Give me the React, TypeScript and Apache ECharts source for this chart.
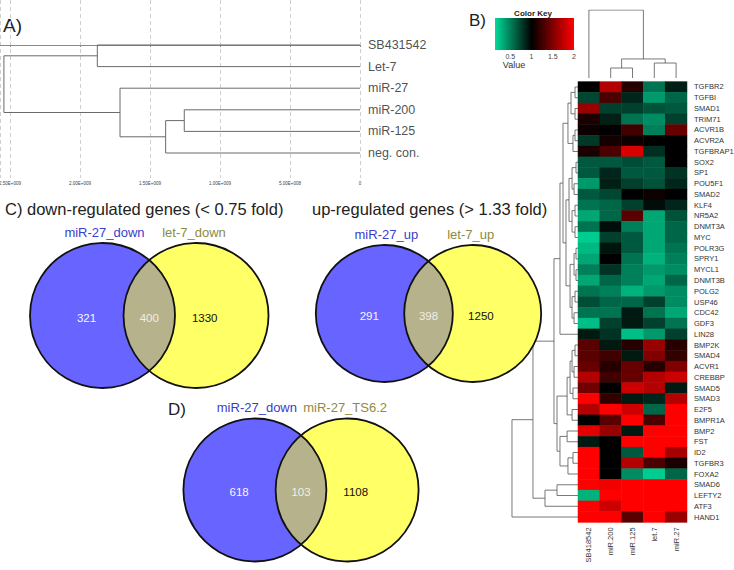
import React, { useEffect, useRef } from 'react';
import * as echarts from 'echarts';

// ---------- Panel A: sample dendrogram ----------
const leafNamesA = ['SB431542', 'Let-7', 'miR-27', 'miR-200', 'miR-125', 'neg. con.'];
// hclust-style merges: [childA, childB, height]; negative = leaf (1-based), positive = merge (1-based)
const mergesA = [
  [-4, -5, 1.255e9],
  [1, -6, 1.388e9],
  [-3, 2, 1.714e9],
  [-1, -2, 1.876e9],
  [4, 3, 2.543e9],
];

// ---------- Panel B: heatmap ----------
const sampleNames = ['SB418542', 'miR.200', 'miR.125', 'let.7', 'miR.27'];
const geneNames = [
  'TGFBR2', 'TGFBI', 'SMAD1', 'TRIM71', 'ACVR1B', 'ACVR2A', 'TGFBRAP1', 'SOX2', 'SP1', 'POU5F1',
  'SMAD2', 'KLF4', 'NR5A2', 'DNMT3A', 'MYC', 'POLR3G', 'SPRY1', 'MYCL1', 'DNMT3B', 'POLG2',
  'USP46', 'CDC42', 'GDF3', 'LIN28', 'BMP2K', 'SMAD4', 'ACVR1', 'CREBBP', 'SMAD5', 'SMAD3',
  'E2F5', 'BMPR1A', 'BMP2', 'FST', 'ID2', 'TGFBR3', 'FOXA2', 'SMAD6', 'LEFTY2', 'ATF3', 'HAND1',
];
const valsSB = [1.0, 0.72, 1.6, 1.1, 1.05, 0.78, 1.1, 0.65, 0.65, 0.4, 0.65, 0.55, 0.35, 0.55, 0.2, 0.28, 0.35, 0.5, 0.35, 0.55, 0.7, 0.55, 0.25, 0.9, 1.35, 1.35, 1.4, 1.7, 1.45, 2.0, 1.7, 1.0, 1.9, 0.9, 2.0, 2.0, 2.0, 2.0, 0.3, 2.0, 2.0];
const vals200 = [1.7, 1.3, 0.75, 0.88, 1.0, 1.08, 1.3, 0.65, 0.85, 0.88, 0.72, 0.6, 0.6, 0.95, 0.75, 0.92, 1.0, 0.8, 0.6, 0.5, 0.6, 0.55, 0.75, 0.8, 0.9, 1.25, 1.15, 1.25, 1.0, 1.2, 2.0, 1.35, 1.6, 1.0, 1.0, 1.0, 1.0, 1.95, 2.0, 1.8, 2.0];
const vals125 = [1.15, 0.85, 0.75, 0.55, 1.25, 1.05, 1.85, 0.7, 0.65, 0.75, 1.0, 0.75, 1.35, 0.5, 0.65, 0.65, 0.55, 0.5, 0.5, 0.3, 0.6, 0.9, 0.9, 0.25, 1.15, 0.9, 1.4, 1.4, 1.8, 0.9, 1.8, 2.0, 0.9, 2.0, 0.65, 1.7, 0.45, 2.0, 2.0, 2.0, 1.35];
const valsLet7 = [0.55, 0.4, 0.68, 0.45, 0.5, 1.0, 0.82, 0.65, 0.65, 0.68, 1.05, 0.95, 0.35, 0.35, 0.35, 0.35, 0.3, 0.4, 0.35, 0.4, 0.75, 0.55, 0.75, 0.4, 1.6, 1.5, 1.15, 1.7, 1.7, 0.85, 0.6, 1.3, 2.0, 2.0, 2.0, 1.3, 0.2, 2.0, 2.0, 2.0, 2.0];
const vals27 = [0.88, 0.6, 0.65, 0.75, 1.4, 1.0, 1.0, 1.0, 0.8, 0.85, 1.0, 0.85, 0.68, 0.6, 0.6, 0.55, 0.5, 0.45, 0.6, 0.45, 0.45, 0.35, 0.55, 0.75, 1.15, 1.2, 1.5, 1.8, 0.9, 1.7, 2.0, 2.0, 2.0, 2.0, 1.65, 1.1, 0.6, 2.0, 2.0, 2.0, 1.6];
const heatColumns = [valsSB, vals200, vals125, valsLet7, vals27];

// row dendrogram merges (heights in arbitrary units, root = 10)
const mergesRows = [
  [-1, -2, 0.45], [-3, -4, 0.45], [1, 2, 1.06], [-5, -6, 0.45], [4, -7, 0.76],
  [3, 5, 1.52], [-8, -9, 0.3], [-10, -11, 0.6], [7, 8, 0.9], [-12, -13, 0.45],
  [-14, -15, 0.45], [10, 11, 0.9], [9, 12, 1.36], [-16, -17, 0.3], [-18, -19, 0.3],
  [14, 15, 0.6], [-20, -21, 0.45], [-22, -23, 0.6], [17, 18, 0.9], [16, 19, 1.2],
  [13, 20, 1.82], [6, 21, 2.27], [22, -24, 2.73], [-25, -26, 0.45], [-27, -28, 0.6],
  [24, 25, 0.9], [-29, -30, 0.76], [26, 27, 1.2], [-31, -32, 0.9], [28, 29, 1.65],
  [-33, -34, 1.65], [-35, -36, 0.76], [32, -37, 1.52], [31, 33, 2.73], [30, 34, 3.18],
  [23, 35, 3.64], [-38, -39, 3.18], [37, -40, 5.0], [36, 38, 6.82], [39, -41, 10],
];
// column dendrogram merges (root = 1)
const mergesCols = [[-2, -3, 0.147], [-4, -5, 0.22], [1, 2, 0.28], [-1, 3, 1.0]];

const keyMin = 0.14;
const keyMax = 2;
const keyTicks = [0.5, 1, 1.5, 2];
const heatColors = ['#00ffb3', '#000000', '#ff0000'];

// ---------- Panels C / D: Venn diagrams ----------
const vennDownSets = ['miR-27_down', 'let-7_down'];
const vennDownCounts = [321, 400, 1330];
const vennUpSets = ['miR-27_up', 'let-7_up'];
const vennUpCounts = [291, 398, 1250];
const vennDSets = ['miR-27_down', 'miR-27_TS6.2'];
const vennDCounts = [618, 103, 1108];

const FONT = 'Liberation Sans, Arial, Helvetica, sans-serif';
const BLUE = '#6864ff';
const YELLOW = '#ffff66';
const LENS = '#b6b28c';
const VD = 0.645; // half distance between Venn centres, in radius units

function dendroLines(merges: number[][], vertical: boolean) {
  const pos: number[] = [];
  const hts: number[] = [];
  const out: any[] = [];
  for (const [a, b, h] of merges) {
    const pa = a < 0 ? -a - 1 : pos[a - 1];
    const ha = a < 0 ? 0 : hts[a - 1];
    const pb = b < 0 ? -b - 1 : pos[b - 1];
    const hb = b < 0 ? 0 : hts[b - 1];
    const pts = [[ha, pa], [h, pa], [h, pb], [hb, pb]];
    out.push({ coords: vertical ? pts.map(([x, y]) => [y, x]) : pts });
    pos.push((pa + pb) / 2);
    hts.push(h);
  }
  return out;
}

function hexToRgb(h: string) {
  return [parseInt(h.slice(1, 3), 16), parseInt(h.slice(3, 5), 16), parseInt(h.slice(5, 7), 16)];
}
function colorAt(v: number) {
  const t = Math.max(0, Math.min(1, v / 2)) * (heatColors.length - 1);
  const i = Math.min(heatColors.length - 2, Math.floor(t));
  const f = t - i;
  const a = hexToRgb(heatColors[i]);
  const b = hexToRgb(heatColors[i + 1]);
  const c = a.map((x, k) => Math.round(x + (b[k] - x) * f));
  return `rgb(${c[0]},${c[1]},${c[2]})`;
}

function sciLabel(v: number) {
  if (Math.abs(v % 5e8) > 1) return '';
  if (v === 0) return '0';
  const e = Math.floor(Math.log10(v) + 1e-9);
  const m = v / Math.pow(10, e);
  return m.toFixed(2) + 'E+' + String(e).padStart(3, '0');
}

function vennSeries(idx: number, sets: string[], counts: number[]) {
  return {
    type: 'custom',
    xAxisIndex: idx,
    yAxisIndex: idx,
    silent: true,
    data: [
      [-VD - 0.22, 0, counts[0], 0],
      [VD + 0.12, 0, counts[2], 2],
      [0, 0, counts[1], 1],
    ],
    renderItem: (params: any, api: any) => {
      const region = api.value(3);
      const c1 = api.coord([-VD, 0]);
      const c2 = api.coord([VD, 0]);
      const r = api.size([1, 0])[0];
      const p = api.coord([api.value(0), api.value(1)]);
      const children: any[] = [];
      if (region === 0 || region === 2) {
        const c = region === 0 ? c1 : c2;
        children.push({ type: 'circle', shape: { cx: c[0], cy: c[1], r }, style: { fill: region === 0 ? BLUE : YELLOW } });
        children.push({
          type: 'text', x: c[0] + (region === 0 ? 2 : -2), y: c[1] - r - 11,
          style: {
            text: sets[region === 0 ? 0 : 1], fill: region === 0 ? '#3c3ccc' : '#8c8c3e',
            fontSize: 13, fontFamily: FONT, align: 'center', verticalAlign: 'middle',
            textAlign: 'center', textVerticalAlign: 'middle',
          },
        });
      } else {
        const xm = (c1[0] + c2[0]) / 2;
        const hh = Math.sqrt(r * r - Math.pow((c2[0] - c1[0]) / 2, 2));
        const top = c1[1] - hh;
        const bot = c1[1] + hh;
        children.push({
          type: 'path',
          shape: { pathData: `M${xm} ${top}A${r} ${r} 0 0 1 ${xm} ${bot}A${r} ${r} 0 0 1 ${xm} ${top}Z` },
          style: { fill: LENS },
        });
        children.push({ type: 'circle', shape: { cx: c1[0], cy: c1[1], r }, style: { fill: 'none', stroke: '#111', lineWidth: 1.8 } });
        children.push({ type: 'circle', shape: { cx: c2[0], cy: c2[1], r }, style: { fill: 'none', stroke: '#111', lineWidth: 1.8 } });
      }
      children.push({
        type: 'text', x: p[0], y: p[1] + 2,
        style: {
          text: String(api.value(2)), fill: region === 2 ? '#111' : region === 1 ? '#efefe6' : '#f6f6ff',
          fontSize: 11.5, fontFamily: FONT, align: 'center', verticalAlign: 'middle',
          textAlign: 'center', textVerticalAlign: 'middle',
        },
      });
      return { type: 'group', children };
    },
  };
}

function mkGrid(left: number, top: number, width: number, height: number) {
  return { left, top, width, height, containLabel: false, outerBoundsMode: 'none' };
}
function vennGrid(mid: number, cy: number, r: number) {
  return mkGrid(mid - (1 + VD) * r, cy - r, 2 * (1 + VD) * r, 2 * r);
}
function hiddenValueAxis(idx: number, min: number, max: number, inverse = false) {
  return { type: 'value', gridIndex: idx, min, max, inverse, show: false, splitLine: { show: false } };
}

function txt(text: string, x: number, y: number, size: number, extra: any = {}) {
  return {
    type: 'text', x, y, silent: true,
    style: {
      text, fontSize: size, fontFamily: FONT, fill: extra.fill || '#222', fontWeight: extra.fontWeight || 'normal',
      textAlign: extra.align || 'left', textVerticalAlign: 'middle', align: extra.align || 'left', verticalAlign: 'middle',
    },
  };
}

export default function App() {
  const ref = useRef<HTMLDivElement>(null);
  useEffect(() => {
    const chart = echarts.init(ref.current!, null, { renderer: 'svg' });

    const heatData: number[][] = [];
    heatColumns.forEach((col, c) => col.forEach((v, r) => heatData.push([c, r, v])));

    const keyX0 = 495, keyX1 = 574;
    const keyPos = (v: number) => keyX0 + ((v - keyMin) / (keyMax - keyMin)) * (keyX1 - keyX0);
    const keyGradient = new echarts.graphic.LinearGradient(0, 0, 1, 0, [
      { offset: 0, color: colorAt(keyMin) },
      { offset: (1 - keyMin) / (keyMax - keyMin), color: colorAt(1) },
      { offset: 1, color: colorAt(keyMax) },
    ]);

    const option: any = {
      animation: false,
      backgroundColor: '#fff',
      textStyle: { fontFamily: FONT },
      grid: [
        mkGrid(0, 0, 360, 178),
        mkGrid(510, 81.6, 68, 440.8),
        mkGrid(578, 10, 109, 68),
        mkGrid(578, 81.6, 109, 440.8),
        vennGrid(149.25, 315.5, 72.5),
        vennGrid(428.5, 313.5, 68.5),
        vennGrid(301, 490, 71.5),
      ],
      xAxis: [
        {
          type: 'value', gridIndex: 0, min: 0, max: 2.571e9, interval: 5e8, inverse: true,
          axisLine: { lineStyle: { color: '#8a8a8a', width: 1 } },
          axisTick: { show: true, length: 2, lineStyle: { color: '#8a8a8a' } },
          axisLabel: { fontSize: 4.5, color: '#444', margin: 3, formatter: sciLabel, showMaxLabel: false },
          splitLine: { show: true, lineStyle: { color: '#cfcfcf', type: [4, 3], width: 1 } },
        },
        hiddenValueAxis(1, 0, 10.3, true),
        hiddenValueAxis(2, -0.5, 4.5),
        {
          type: 'category', gridIndex: 3, data: sampleNames, position: 'bottom',
          axisLine: { show: false }, axisTick: { show: false },
          axisLabel: { rotate: 90, fontSize: 7.5, color: '#333', margin: 5 },
        },
        hiddenValueAxis(4, -(1 + VD), 1 + VD),
        hiddenValueAxis(5, -(1 + VD), 1 + VD),
        hiddenValueAxis(6, -(1 + VD), 1 + VD),
      ],
      yAxis: [
        hiddenValueAxis(0, -2.083, 6.157, true),
        hiddenValueAxis(1, -0.5, 40.5, true),
        hiddenValueAxis(2, 0, 1),
        {
          type: 'category', gridIndex: 3, data: geneNames, inverse: true, position: 'right',
          axisLine: { show: false }, axisTick: { show: false },
          axisLabel: { fontSize: 7.5, color: '#333', margin: 7 },
        },
        hiddenValueAxis(4, -1, 1),
        hiddenValueAxis(5, -1, 1),
        hiddenValueAxis(6, -1, 1),
      ],
      visualMap: {
        show: false, type: 'continuous', min: 0, max: 2, seriesIndex: 4,
        inRange: { color: heatColors },
      },
      series: [
        {
          type: 'lines', coordinateSystem: 'cartesian2d', xAxisIndex: 0, yAxisIndex: 0, polyline: true, silent: true,
          lineStyle: { color: '#6a6a6a', width: 1, opacity: 1 }, data: dendroLines(mergesA, false),
        },
        {
          type: 'scatter', xAxisIndex: 0, yAxisIndex: 0, symbolSize: 0, silent: true,
          data: leafNamesA.map((n, i) => ({ name: n, value: [0, i] })),
          label: { show: true, position: 'right', distance: 8, formatter: (p: any) => p.name, fontSize: 12.5, color: '#222' },
        },
        {
          type: 'lines', coordinateSystem: 'cartesian2d', xAxisIndex: 1, yAxisIndex: 1, polyline: true, silent: true,
          lineStyle: { color: '#555', width: 0.8, opacity: 1 }, data: dendroLines(mergesRows, false),
        },
        {
          type: 'lines', coordinateSystem: 'cartesian2d', xAxisIndex: 2, yAxisIndex: 2, polyline: true, silent: true,
          lineStyle: { color: '#555', width: 0.8, opacity: 1 }, data: dendroLines(mergesCols, true),
        },
        {
          type: 'heatmap', xAxisIndex: 3, yAxisIndex: 3, data: heatData, silent: true,
          itemStyle: { borderWidth: 0 },
        },
        vennSeries(4, vennDownSets, vennDownCounts),
        vennSeries(5, vennUpSets, vennUpCounts),
        vennSeries(6, vennDSets, vennDCounts),
      ],
      graphic: [
        txt('A)', 3, 25, 19),
        txt('B)', 469, 20, 17),
        txt('C) down-regulated genes (< 0.75 fold)', 5, 209, 16.5),
        txt('up-regulated genes (> 1.33 fold)', 312, 209, 16.5),
        txt('D)', 168, 409, 17),
        {
          type: 'rect', silent: true,
          shape: { x: keyX0, y: 18, width: keyX1 - keyX0, height: 32 },
          style: { fill: keyGradient },
        },
        txt('Color Key', 533, 13, 8, { align: 'center', fontWeight: 'bold' }),
        ...keyTicks.map((v) => txt(String(v), keyPos(v), 56, 7, { align: 'center', fill: '#444' })),
        txt('Value', 514, 65, 9, { align: 'center', fill: '#333' }),
      ],
    };
    chart.setOption(option);
    return () => chart.dispose();
  }, []);
  return (
    <div
      ref={ref}
      style={{ position: 'fixed', left: 0, top: 0, width: 734, height: 570, background: '#fff' }}
    />
  );
}
